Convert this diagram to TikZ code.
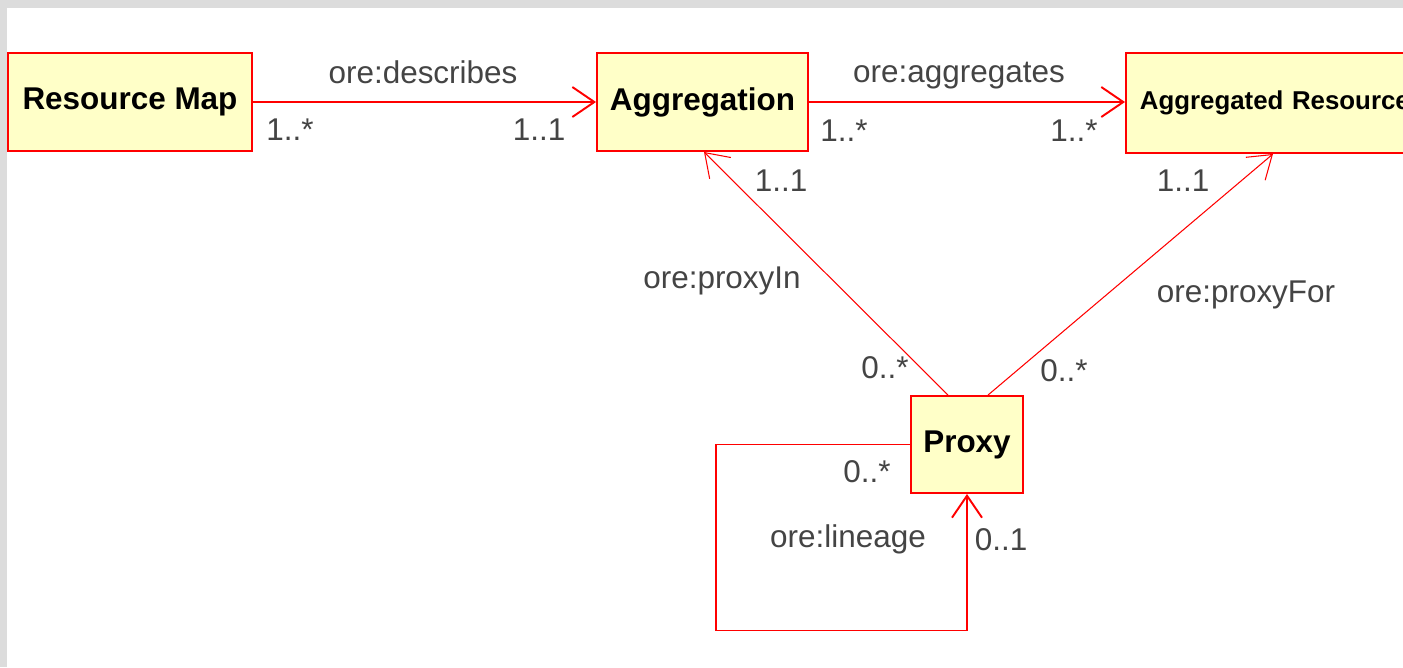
\documentclass[tikz,border=0pt]{standalone}
\usepackage{fontspec}
\setmainfont{Liberation Sans}
\usetikzlibrary{arrows.meta}
\definecolor{umlfill}{RGB}{255,255,200}
\definecolor{umlred}{RGB}{255,0,0}
\definecolor{labelgray}{RGB}{68,68,68}
\definecolor{framegray}{RGB}{220,220,220}
\tikzset{
    cls/.style={draw=umlred, line width=1.1pt, fill=umlfill, inner sep=0pt, font=\fontsize{17.9}{20}\selectfont\bfseries},
    assoc/.style={draw=umlred, line width=1.1pt, -{Straight Barb[length=0.44cm, width=0.6cm]}},
    lbl/.style={text=labelgray, anchor=base, inner sep=0pt, font=\fontsize{17.9}{20}\selectfont}
}
\begin{document}
\begin{tikzpicture}[x=0.02cm, y=-0.02cm]
        \clip (0,0) rectangle (1403,667);
        \fill[framegray] (0,0) rectangle (1403,667);
        \fill[white] (7,8) rectangle (1403,667);
        \node[cls, minimum width=4.88cm, minimum height=1.96cm] (rmap) at (130,102) {Resource Map};
        \node[cls, minimum width=4.22cm, minimum height=1.96cm] (aggr) at (702.5,102) {Aggregation};
        \node[cls, anchor=west, minimum height=2cm, text width=6cm, inner xsep=0.28cm, font=\fontsize{14.7}{16}\selectfont\bfseries] (aggres) at (1125,103) {Aggregated Resource};
        \node[cls, minimum width=2.24cm, minimum height=1.94cm] (proxy) at (967,444.5) {Proxy};
        \draw[assoc] (rmap) to (aggr);
        \draw[assoc] (aggr.east) to (aggr.east -| aggres.west);
        \draw[assoc, line width=0.6pt] ([xshift=-0.38cm]proxy.north) to ([xshift=0.03cm]aggr.south);
        \draw[assoc, line width=0.6pt] ([xshift=0.42cm]proxy.north) to ([xshift=2.96cm]aggres.south west);
        \draw[assoc] (proxy.west) -- ++(-194,0) -- ++(0,186) -| (proxy.south);
        \node[lbl] (describes) at (423,83) {ore:describes};
        \node[lbl] (describesA) at (290,140) {1..*};
        \node[lbl] (describesB) at (539,140) {1..1};
        \node[lbl] (aggregates) at (959,82) {ore:aggregates};
        \node[lbl] (aggregatesA) at (844,141) {1..*};
        \node[lbl] (aggregatesB) at (1074,141) {1..*};
        \node[lbl] (proxyinA) at (781,191) {1..1};
        \node[lbl] (proxyforA) at (1183,191) {1..1};
        \node[lbl] (proxyin) at (722,288) {ore:proxyIn};
        \node[lbl] (proxyfor) at (1246,302) {ore:proxyFor};
        \node[lbl] (proxyinB) at (885,378) {0..*};
        \node[lbl] (proxyforB) at (1064,381) {0..*};
        \node[lbl] (lineageA) at (867,482) {0..*};
        \node[lbl] (lineage) at (848,547) {ore:lineage};
        \node[lbl] (lineageB) at (1001,550) {0..1};
    \end{tikzpicture}
\end{document}
